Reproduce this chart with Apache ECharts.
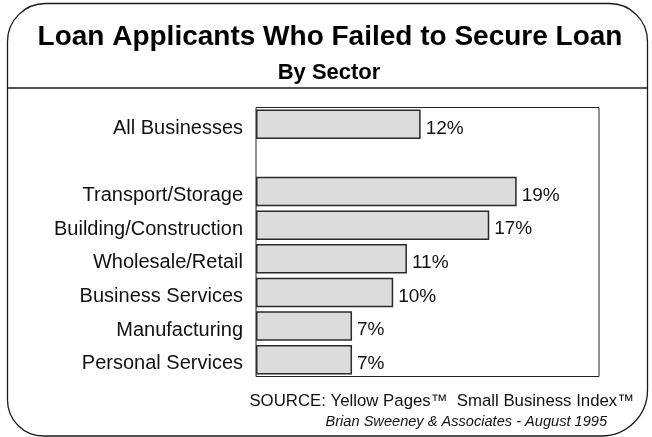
<!DOCTYPE html>
<html>
<head>
<meta charset="utf-8">
<title>Loan Applicants Who Failed to Secure Loan</title>
<script src="https://cdn.jsdelivr.net/npm/echarts@6/dist/echarts.min.js"></script>
<style>
  html, body { margin: 0; padding: 0; background: #fff; }
  #chart { width: 652px; height: 437px; }
</style>
</head>
<body>
<div id="chart"></div>
<script>
// Sectors, top to bottom; the empty entry leaves a gap under "All Businesses"
const sectors = [
  'All Businesses',
  '',
  'Transport/Storage',
  'Building/Construction',
  'Wholesale/Retail',
  'Business Services',
  'Manufacturing',
  'Personal Services'
];
// Share of applicants who failed to secure a loan (%)
const failedPct = [12, '-', 19, 17, 11, 10, 7, 7];

const titleText = 'Loan Applicants Who Failed to Secure Loan';
const subtitleText = 'By Sector';
const sourceText = 'SOURCE: Yellow Pages\u2122  Small Business Index\u2122';
const creditText = 'Brian Sweeney & Associates - August 1995';

const FONT = '"Liberation Sans", Arial, Helvetica, sans-serif';

const chart = echarts.init(document.getElementById('chart'), null, { renderer: 'canvas' });

chart.setOption({
  backgroundColor: '#ffffff',
  animation: false,
  textStyle: { fontFamily: FONT },
  graphic: [
    // rounded frame around the whole panel
    {
      type: 'rect',
      shape: { x: 7.5, y: 3.5, width: 640, height: 432.5, r: [38, 38, 46, 36] },
      style: { fill: 'none', stroke: '#1a1a1a', lineWidth: 1.3 },
      silent: true
    },
    // rule under the heading
    {
      type: 'line',
      shape: { x1: 7.5, y1: 88, x2: 647.5, y2: 88 },
      style: { stroke: '#1a1a1a', lineWidth: 1.3 },
      silent: true
    },
    {
      type: 'text',
      x: 330, y: 37.5,
      style: {
        text: titleText, fontFamily: FONT, fontWeight: 'bold', fontSize: 28,
        fill: '#000', textAlign: 'center', textVerticalAlign: 'middle'
      }
    },
    {
      type: 'text',
      x: 329, y: 73,
      style: {
        text: subtitleText, fontFamily: FONT, fontWeight: 'bold', fontSize: 22,
        fill: '#000', textAlign: 'center', textVerticalAlign: 'middle'
      }
    },
    {
      type: 'text',
      x: 634, y: 401.5,
      style: {
        text: sourceText, fontFamily: FONT, fontSize: 16.8,
        fill: '#111', textAlign: 'right', textVerticalAlign: 'middle'
      }
    },
    {
      type: 'text',
      x: 607, y: 422,
      style: {
        text: creditText, fontFamily: FONT, fontSize: 14.6, fontStyle: 'italic',
        fill: '#111', textAlign: 'right', textVerticalAlign: 'middle'
      }
    }
  ],
  grid: {
    left: 256,
    right: 53,
    top: 107.5,
    bottom: 60.5,
    show: true,
    borderColor: '#222',
    borderWidth: 1,
    backgroundColor: 'transparent',
    containLabel: false
  },
  xAxis: {
    type: 'value',
    min: 0,
    max: 25,
    show: false
  },
  yAxis: {
    type: 'category',
    inverse: true,
    data: sectors,
    axisLine: { show: false },
    axisTick: { show: false },
    splitLine: { show: false },
    axisLabel: {
      margin: 13,
      formatter: (name) => (name ? '{s|' + name + '}' : ''),
      rich: {
        s: {
          fontFamily: FONT,
          fontSize: 20,
          color: '#111',
          padding: [8, 0, 0, 0]
        }
      }
    }
  },
  series: [
    {
      type: 'bar',
      data: failedPct,
      barCategoryGap: '12%',
      itemStyle: {
        color: '#dcdcdc',
        borderColor: '#2a2a2a',
        borderWidth: 1.5
      },
      label: {
        show: true,
        position: 'right',
        distance: 5,
        offset: [0, 4],
        formatter: '{c}%',
        fontFamily: FONT,
        fontSize: 19,
        color: '#111'
      }
    }
  ]
});
</script>
</body>
</html>
